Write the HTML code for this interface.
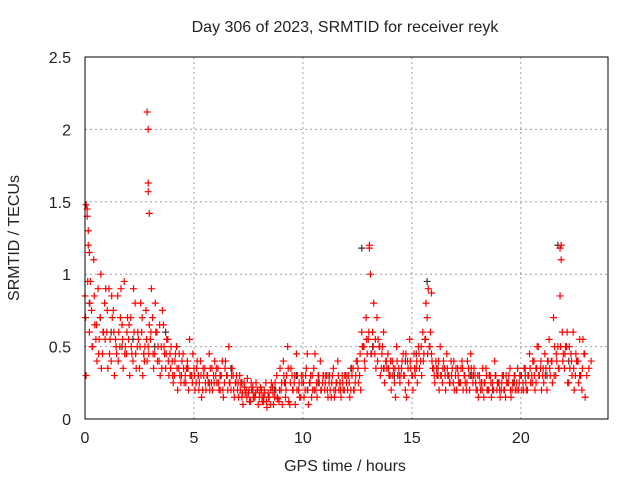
<!DOCTYPE html>
<html><head><meta charset="utf-8"><style>
body{margin:0;background:#fff}
svg text{font-family:"Liberation Sans",sans-serif;font-size:16px;fill:#222}
</style></head><body>
<svg id="chart" width="640" height="480" xmlns="http://www.w3.org/2000/svg">
<rect width="640" height="480" fill="#fff"/>
<text x="345" y="32" text-anchor="middle">Day 306 of 2023, SRMTID for receiver reyk</text>
<text x="345" y="471" text-anchor="middle">GPS time / hours</text>
<text transform="translate(19,238) rotate(-90)" text-anchor="middle">SRMTID / TECUs</text>
<g id="grid"></g><g id="ticks"></g><g id="black"></g><g id="red"></g>
<rect x="85" y="57" width="523" height="362" fill="none" stroke="#000" stroke-width="1"/>
</svg>
<script>
const xTicks=[0,5,10,15,20];
const yTicks=[0,0.5,1,1.5,2,2.5];
const yTickLabels=["0","0.5","1","1.5","2","2.5"];
const redStart=0, redStep=0.1;
const redA=[.85,1.45,.6,.75,1.1,.55,.9,.7,.45,.8,.6,.9,.4,.75,.55,.85,.5,.65,.95,.45,.55,.7,.4,.8,.5,.35,.6,.45,.75,.5,.55,.7,.45,.6,.4,.5,.65,.35,.55,.45,.4,.3,.5,.35,.25,.45,.3,.4,.55,.3,.35,.25,.3,.4,.2,.35,.3,.45,.25,.3,.3,.35,.2,.4,.25,.3,.5,.2,.3,.25,.2,.3,.15,.25,.2,.18,.12,.22,.15,.2,.15,.2,.12,.25,.18,.1,.22,.15,.3,.12,.2,.4,.15,.5,.1,.3,.25,.45,.2,.15,.3,.2,.45,.25,.15,.35,.2,.3,.4,.25,.2,.3,.25,.15,.35,.2,.4,.25,.3,.2,.25,.3,.2,.35,.25,.4,.3,.6,.5,.7,.55,1.0,.6,.45,.7,.5,.35,.6,.4,.45,.3,.4,.25,.5,.35,.3,.45,.2,.4,.55,.3,.45,.35,.5,.4,.6,.55,.7,.5,.45,.35,.4,.3,.5,.25,.35,.45,.3,.4,.25,.3,.35,.25,.4,.3,.2,.35,.45,.25,.3,.2,.3,.25,.15,.35,.2,.3,.25,.4,.2,.25,.2,.3,.15,.25,.35,.2,.3,.25,.2,.3,.25,.35,.2,.45,.3,.4,.25,.5,.35,.3,.45,.2,.55,.4,.7,.3,.5,.85,.6,.35,.5,.25,.45,.6,.3,.4,.55,.2,.45];
const redB=[.3,1.2,.95,.5,.65,.4,.55,.35,.6,.9,.35,.55,.7,.3,.45,.6,.9,.35,.5,.7,.3,.45,.6,.35,.55,.8,.3,.5,.4,.65,.9,.35,.6,.5,.3,.75,.45,.55,.3,.5,.25,.45,.2,.3,.4,.25,.35,.2,.3,.45,.2,.4,.25,.15,.3,.2,.25,.35,.2,.4,.25,.2,.3,.15,.4,.2,.25,.35,.15,.3,.15,.25,.1,.18,.28,.12,.2,.15,.25,.1,.22,.12,.18,.08,.15,.25,.1,.2,.14,.35,.1,.25,.3,.12,.35,.2,.1,.3,.15,.25,.15,.35,.1,.3,.2,.45,.15,.25,.2,.3,.3,.15,.2,.3,.15,.25,.2,.15,.2,.3,.2,.15,.3,.2,.4,.25,.2,.5,.35,.45,1.2,.45,.8,.35,.55,.3,.5,.25,.35,.3,.2,.35,.15,.3,.25,.4,.3,.15,.25,.35,.2,.3,.25,.35,.3,.45,.8,.9,.6,.35,.25,.3,.2,.3,.4,.2,.3,.25,.35,.2,.2,.25,.35,.2,.25,.4,.2,.3,.35,.2,.15,.2,.35,.25,.2,.3,.15,.2,.3,.25,.15,.3,.2,.25,.3,.15,.25,.2,.35,.3,.2,.35,.2,.3,.25,.4,.2,.5,.3,.2,.25,.35,.4,.3,.25,.5,.4,.35,1.2,.45,.5,.25,.35,.3,.2,.4,.25,.3,.55,.15];
const redC=[.7,.95,.8,.5,.85,.65,.45,1.0,.6,.55,.75,.45,.85,.6,.5,.4,.7,.55,.45,.6,.65,.5,.9,.45,.6,.5,.7,.4,.55,.45,.6,.45,.8,.4,.65,.35,.5,.45,.4,.35,.3,.4,.35,.45,.3,.35,.25,.35,.3,.25,.3,.35,.2,.3,.35,.25,.3,.2,.35,.25,.35,.25,.3,.2,.35,.3,.25,.3,.2,.25,.25,.2,.18,.22,.15,.2,.25,.15,.18,.2,.18,.15,.2,.12,.15,.2,.18,.25,.15,.2,.25,.3,.2,.35,.25,.2,.3,.2,.25,.3,.25,.3,.2,.25,.3,.2,.25,.3,.2,.3,.25,.2,.3,.25,.2,.25,.3,.2,.25,.3,.3,.25,.35,.2,.3,.35,.45,.5,.4,.55,.6,.45,.5,.55,.4,.5,.45,.35,.4,.35,.4,.3,.35,.4,.3,.35,.3,.45,.35,.4,.3,.35,.4,.45,.5,.4,.55,.45,.5,.4,.3,.35,.4,.3,.35,.3,.35,.25,.3,.4,.35,.3,.25,.35,.3,.25,.3,.35,.3,.25,.3,.25,.2,.25,.3,.2,.25,.2,.3,.25,.2,.25,.2,.3,.25,.2,.25,.3,.2,.25,.3,.2,.25,.3,.35,.25,.3,.35,.3,.4,.35,.3,.4,.35,.4,.3,.45,.35,.5,.4,.45,.6,.5,.4,.35,.45,.4,.3,.35,.45,.3,.35,.4];
const spikeHours=[2.85,2.9,2.9,2.9,2.95,0.1,0.15,13.05,21.8,21.85,15.9,0.05,0.2];
const spikeValues=[2.12,2.0,1.63,1.57,1.42,1.4,1.3,1.18,1.18,1.1,0.87,1.48,1.15];
const blackStart=0, blackStep=0.5;
const blackVals=[.8,.7,.6,.5,.55,.45,.5,.6,.5,.35,.3,.25,.3,.35,.25,.2,.15,.2,.25,.3,.2,.25,.3,.25,.35,1.18,.5,.35,.3,.4,.45,.95,.35,.3,.25,.3,.25,.2,.3,.25,.3,.35,.3,1.2,.4,.3];
const X=h=>85+h*(523/24), Y=v=>419-v*(362/2.5);
const NS="http://www.w3.org/2000/svg";
function mk(tag,attrs,parent){const e=document.createElementNS(NS,tag);for(const k in attrs)e.setAttribute(k,attrs[k]);parent.appendChild(e);return e;}
const grid=document.getElementById('grid'),ticks=document.getElementById('ticks');
xTicks.forEach(t=>{
 if(t>0){const g=mk('line',{x1:X(t),x2:X(t),y1:57,y2:419,stroke:'#a0a0a0','stroke-dasharray':'2,3'},grid);
 
 }
 const l=mk('text',{x:X(t),y:443,'text-anchor':'middle'},ticks);l.textContent=t;
 
 
});
yTicks.forEach((t,i)=>{
 if(t>0&&t<2.5){const g=mk('line',{x1:85,x2:608,y1:Y(t),y2:Y(t),stroke:'#a0a0a0','stroke-dasharray':'2,3'},grid);
 
 }
 const l=mk('text',{x:71,y:Y(t)+6,'text-anchor':'end'},ticks);l.textContent=yTickLabels[i];
 
 
});
function plus(g,h,v,c){const x=X(h),y=Y(v);
 const p=mk('path',{d:`M${x-3.5} ${y}H${x+3.5}M${x} ${y-3.5}V${y+3.5}`,stroke:c,'stroke-width':1.2,fill:'none'},g);
 
 }
const bg=document.getElementById('black'),rg=document.getElementById('red');
blackVals.forEach((v,i)=>plus(bg,blackStart+i*blackStep+0.2,v,'#333'));
redA.forEach((v,i)=>plus(rg,redStart+i*redStep,v,'#ff0000'));
redB.forEach((v,i)=>plus(rg,redStart+i*redStep+0.05,v,'#ff0000'));
redC.forEach((v,i)=>plus(rg,redStart+i*redStep+0.025,v,'#ff0000'));
spikeHours.forEach((h,i)=>plus(rg,h,spikeValues[i],'#ff0000'));
</script>
</body></html>
